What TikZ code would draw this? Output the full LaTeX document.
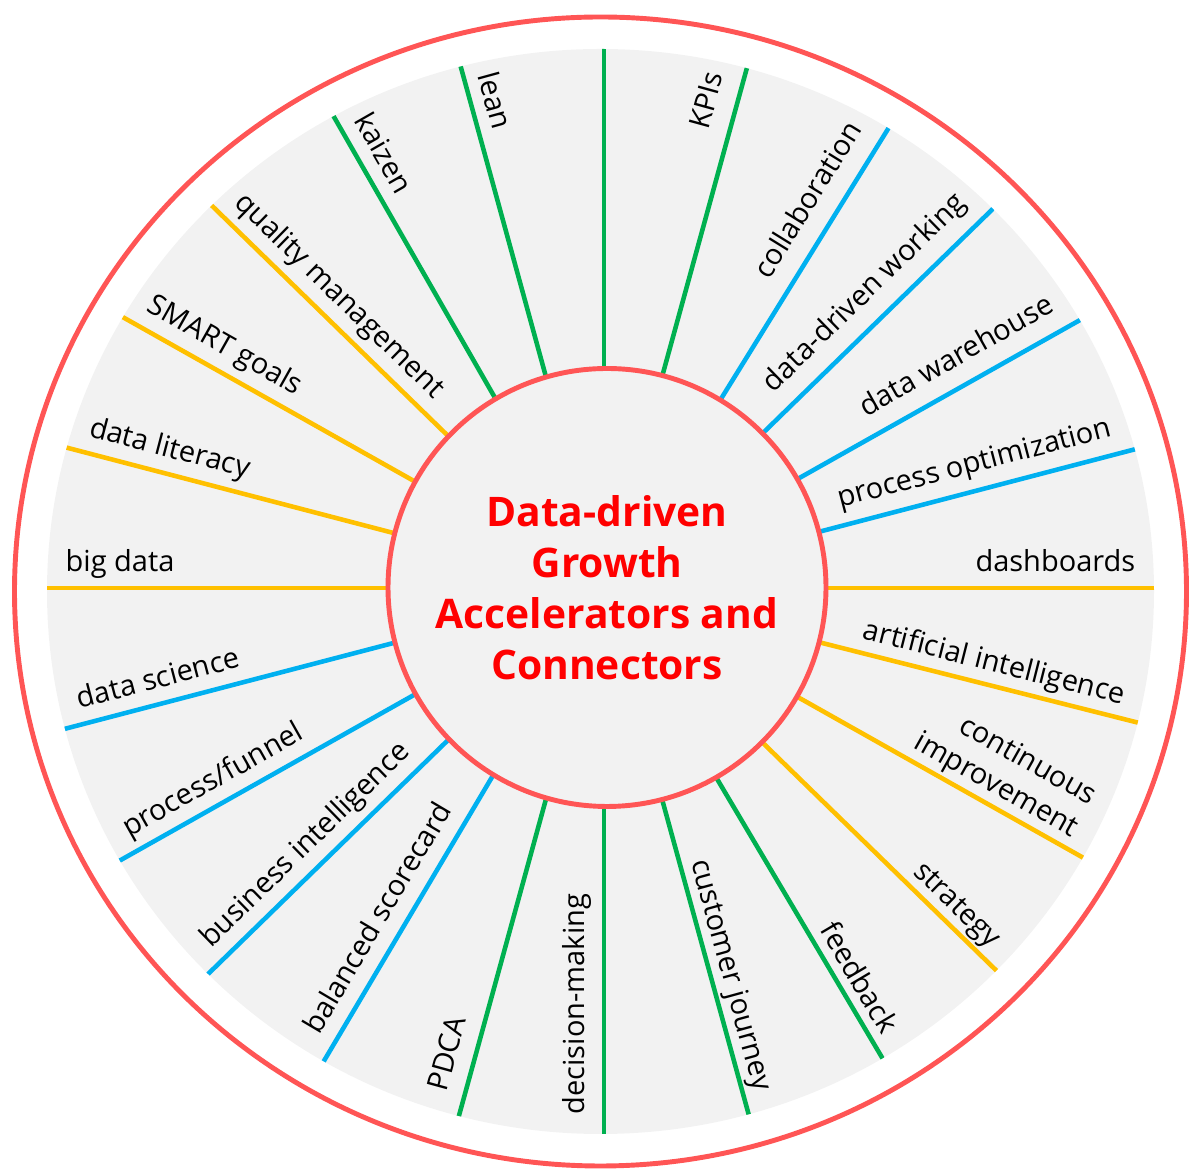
\documentclass[tikz,border=0pt]{standalone}
\usepackage{fontspec}
\setmainfont{Open Sans}
\usetikzlibrary{calc}

\definecolor{spokegreen}{HTML}{00B050}
\definecolor{spokeblue}{HTML}{00B0F0}
\definecolor{spokeyellow}{HTML}{FFC000}
\definecolor{ringred}{HTML}{FF5555}
\definecolor{diskgray}{HTML}{F2F2F2}
\definecolor{titlered}{HTML}{FF0000}

\begin{document}
\begin{tikzpicture}[
    spoke/.style={line width=1.3pt},
    gspoke/.style={spoke,draw=spokegreen},
    bspoke/.style={spoke,draw=spokeblue},
    yspoke/.style={spoke,draw=spokeyellow},
    lbl/.style={inner sep=0pt,font=\fontsize{8.25}{10.4}\selectfont},
    rlab/.style={lbl,anchor=base east,rotate={atan2(0.975*sin(#1),cos(#1))}},
    llab/.style={lbl,anchor=base west,rotate={atan2(0.975*sin(#1),cos(#1))+180}},
    hub/.style={circle,draw=ringred,fill=diskgray,line width=1.4pt,
      minimum size=4.38cm,inner sep=0pt,align=center,text=titlered,
      font=\fontsize{11.6}{14.5}\selectfont\bfseries}]

  \useasboundingbox (0,0) rectangle (12,11.69);

  \coordinate (g) at (6.005,5.775);
  \coordinate (c) at (6.04,5.81);
  \coordinate (t) at (6.005,5.81);

  \fill[diskgray] (g) ellipse (5.535 and 5.425);
  \draw[ringred,line width=1.4pt] (g) ellipse (5.86 and 5.745);

  \begin{scope}
    \clip (g) ellipse (5.535 and 5.425);
    \draw[gspoke] (c) -- ++(119.2:6 and 5.85);
    \draw[gspoke] (c) -- ++(105:6 and 5.85);
    \draw[gspoke] (c) -- ++(90:6 and 5.85);
    \draw[gspoke] (c) -- ++(75:6 and 5.85);
    \draw[bspoke] (c) -- ++(58.9:6 and 5.85);
    \draw[bspoke] (c) -- ++(45:6 and 5.85);
    \draw[bspoke] (c) -- ++(30:6 and 5.85);
    \draw[bspoke] (c) -- ++(15:6 and 5.85);
    \draw[yspoke] (c) -- ++(0:6 and 5.85);
    \draw[yspoke] (c) -- ++(-14.5:6 and 5.85);
    \draw[yspoke] (c) -- ++(-30:6 and 5.85);
    \draw[yspoke] (c) -- ++(-45:6 and 5.85);
    \draw[gspoke] (c) -- ++(-60:6 and 5.85);
    \draw[gspoke] (c) -- ++(-75:6 and 5.85);
    \draw[gspoke] (c) -- ++(-90:6 and 5.85);
    \draw[gspoke] (c) -- ++(-105:6 and 5.85);
    \draw[bspoke] (c) -- ++(-120:6 and 5.85);
    \draw[bspoke] (c) -- ++(-135:6 and 5.85);
    \draw[bspoke] (c) -- ++(-150:6 and 5.85);
    \draw[bspoke] (c) -- ++(-165:6 and 5.85);
    \draw[yspoke] (c) -- ++(180:6 and 5.85);
    \draw[yspoke] (c) -- ++(165:6 and 5.85);
    \draw[yspoke] (c) -- ++(150:6 and 5.85);
    \draw[yspoke] (c) -- ++(135:6 and 5.85);
  \end{scope}

  \node[hub] (hub) at (6.07,5.815) {Data-driven\\Growth\\Accelerators and\\Connectors};

  % right half, read outwards
  \node[rlab=75] (kpis) at ($(t)+(75:5.355 and 5.27)+(165:.16)$) {KPIs};
  \node[rlab=58.9] (collab) at ($(t)+(58.9:5.355 and 5.27)+(148.9:.16)$) {collaboration};
  \node[rlab=45] (ddwork) at ($(t)+(45:5.355 and 5.27)+(135:.16)$) {data-driven working};
  \node[rlab=30] (dwh) at ($(t)+(30:5.355 and 5.27)+(120:.16)$) {data warehouse};
  \node[rlab=15] (procopt) at ($(t)+(15:5.355 and 5.27)+(105:.16)$) {process optimization};
  \node[rlab=0] (dash) at ($(t)+(0:5.355 and 5.27)+(90:.16)$) {dashboards};
  \node[rlab=-14.5] (ai) at ($(t)+(-14.5:5.355 and 5.27)+(75.5:.16)$) {artificial intelligence};
  \node[rlab=-30,align=right] (contimp) at ($(t)+(-30:5.355 and 5.27)+(60:.16)$) {continuous\\improvement};
  \node[rlab=-45] (strat) at ($(t)+(-45:5.355 and 5.27)+(45:.16)$) {strategy};
  \node[rlab=-60] (feedb) at ($(t)+(-60:5.355 and 5.27)+(30:.16)$) {feedback};
  \node[rlab=-75] (cjourney) at ($(t)+(-75:5.355 and 5.27)+(15:.16)$) {customer journey};

  % left half, read inwards
  \node[llab=270] (decis) at ($(t)+(270:5.355 and 5.27)+(180:.16)$) {decision-making};
  \node[llab=255] (pdca) at ($(t)+(255:5.355 and 5.27)+(165:.16)$) {PDCA};
  \node[llab=240] (bsc) at ($(t)+(240:5.355 and 5.27)+(150:.16)$) {balanced scorecard};
  \node[llab=225] (bi) at ($(t)+(225:5.355 and 5.27)+(135:.16)$) {business intelligence};
  \node[llab=210] (funnel) at ($(t)+(210:5.355 and 5.27)+(120:.16)$) {process/funnel};
  \node[llab=195] (dsci) at ($(t)+(195:5.355 and 5.27)+(105:.16)$) {data science};
  \node[llab=180] (bigdata) at ($(t)+(180:5.355 and 5.27)+(90:.16)$) {big data};
  \node[llab=165] (literacy) at ($(t)+(165:5.355 and 5.27)+(75:.16)$) {data literacy};
  \node[llab=150] (smart) at ($(t)+(150:5.355 and 5.27)+(60:.16)$) {SMART goals};
  \node[llab=135] (quality) at ($(t)+(135:5.355 and 5.27)+(45:.16)$) {quality management};
  \node[llab=119.2] (kaizen) at ($(t)+(119.2:5.355 and 5.27)+(29.2:.16)$) {kaizen};
  \node[llab=105] (lean) at ($(t)+(105:5.355 and 5.27)+(15:.16)$) {lean};

\end{tikzpicture}
\end{document}
